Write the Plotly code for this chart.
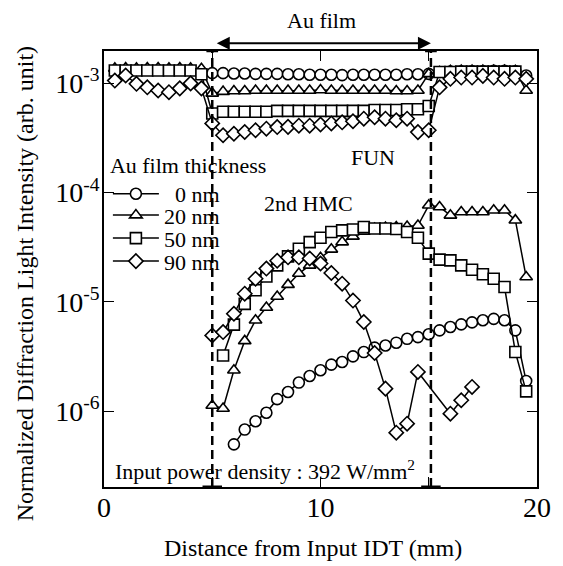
import plotly.graph_objects as go

# ---------------- data ----------------
def xr(a, b):
    return [a + 0.5 * i for i in range(int(round((b - a) / 0.5)) + 1)]

thickness_labels = ["\u00a0\u00a00 nm", "20 nm", "50 nm", "90 nm"]

# Fundamental (FUN) component
fun_x_0 = xr(5.0, 19.5)
fun_y_0 = [1.24e-3, 1.24e-3, 1.23e-3, 1.23e-3, 1.22e-3, 1.22e-3, 1.22e-3, 1.21e-3, 1.21e-3, 1.20e-3,
           1.20e-3, 1.20e-3, 1.19e-3, 1.20e-3, 1.20e-3, 1.20e-3, 1.20e-3, 1.20e-3, 1.21e-3, 1.21e-3,
           1.22e-3, 1.27e-3, 1.28e-3, 1.28e-3, 1.29e-3, 1.29e-3, 1.30e-3, 1.30e-3, 1.29e-3, 1.18e-3]

fun_x_20 = xr(0.5, 19.5)
fun_y_20 = [1.37e-3, 1.38e-3, 1.37e-3, 1.38e-3, 1.38e-3, 1.37e-3, 1.38e-3, 1.37e-3, 1.36e-3,
            0.81e-3,
            0.84e-3, 0.85e-3, 0.85e-3, 0.86e-3, 0.86e-3, 0.86e-3, 0.86e-3, 0.86e-3, 0.86e-3, 0.87e-3,
            0.86e-3, 0.86e-3, 0.86e-3, 0.86e-3, 0.86e-3, 0.86e-3, 0.85e-3, 0.85e-3, 0.86e-3,
            1.22e-3,
            1.27e-3, 1.30e-3, 1.31e-3, 1.31e-3, 1.31e-3, 1.31e-3, 1.31e-3, 1.30e-3,
            0.86e-3]

fun_x_50 = xr(0.5, 19.0)
fun_y_50 = [1.31e-3, 1.31e-3, 1.31e-3, 1.31e-3, 1.31e-3, 1.31e-3, 1.31e-3, 1.31e-3, 1.21e-3,
            0.53e-3,
            0.55e-3, 0.55e-3, 0.55e-3, 0.55e-3, 0.55e-3, 0.56e-3, 0.56e-3, 0.56e-3, 0.56e-3, 0.56e-3,
            0.56e-3, 0.56e-3, 0.56e-3, 0.56e-3, 0.57e-3, 0.57e-3, 0.57e-3, 0.58e-3, 0.58e-3,
            0.62e-3,
            1.27e-3, 1.27e-3, 1.28e-3, 1.28e-3, 1.28e-3, 1.28e-3, 1.28e-3, 1.28e-3]

fun_x_90 = xr(0.5, 19.5)
fun_y_90 = [1.06e-3, 1.18e-3, 0.99e-3, 0.92e-3, 0.86e-3, 0.83e-3, 0.90e-3, 1.00e-3, 0.90e-3,
            0.43e-3,
            0.335e-3, 0.346e-3, 0.359e-3, 0.372e-3, 0.385e-3, 0.398e-3, 0.40e-3, 0.41e-3, 0.41e-3, 0.42e-3,
            0.43e-3, 0.44e-3, 0.45e-3, 0.475e-3, 0.49e-3, 0.475e-3, 0.46e-3, 0.475e-3, 0.358e-3,
            0.372e-3,
            0.92e-3,
            1.10e-3, 1.13e-3, 1.13e-3, 1.17e-3, 1.13e-3, 1.10e-3, 1.13e-3, 1.10e-3]

# 2nd harmonic (2nd HMC) component
hmc_x_0 = xr(6.0, 19.5)
hmc_y_0 = [4.98e-7, 6.8e-7, 8.1e-7, 9.7e-7, 1.29e-6, 1.5e-6, 1.83e-6, 2.1e-6, 2.37e-6, 2.67e-6,
           2.82e-6, 3.18e-6, 3.48e-6, 3.82e-6, 4.0e-6, 4.24e-6, 4.6e-6, 4.77e-6, 5.06e-6, 5.5e-6,
           5.9e-6, 6.23e-6, 6.5e-6, 6.8e-6, 7.0e-6, 6.8e-6, 5.5e-6, 1.89e-6]

hmc_x_20 = xr(5.0, 19.5)
hmc_y_20 = [1.13e-6, 1.06e-6, 2.37e-6, 4.4e-6, 6.8e-6, 8.9e-6, 1.12e-5, 1.44e-5, 1.82e-5, 2.16e-5,
            2.54e-5, 3.03e-5, 3.53e-5, 3.98e-5, 4.42e-5, 4.7e-5, 4.8e-5, 4.85e-5, 4.9e-5, 5.0e-5,
            7.66e-5, 7.4e-5, 6.2e-5, 6.65e-5, 6.65e-5, 6.65e-5, 6.9e-5, 6.9e-5, 5.6e-5, 1.69e-5]

hmc_x_50 = xr(5.5, 19.5)
hmc_y_50 = [3.24e-6, 6.2e-6, 9.6e-6, 1.28e-5, 1.71e-5, 2.16e-5, 2.61e-5, 3.07e-5, 3.53e-5, 3.87e-5,
            4.36e-5, 4.52e-5, 4.6e-5, 4.85e-5, 4.7e-5, 4.7e-5, 4.65e-5, 4.36e-5, 3.87e-5, 2.77e-5,
            2.44e-5, 2.4e-5, 2.16e-5, 1.97e-5, 1.79e-5, 1.63e-5, 1.37e-5, 3.48e-6, 1.52e-6]

hmc_x_90 = xr(5.0, 14.5) + [16.0, 16.5, 17.0]
hmc_y_90 = [4.94e-6, 5.3e-6, 7.8e-6, 1.19e-5, 1.63e-5, 2.02e-5, 2.38e-5, 2.56e-5, 2.56e-5, 2.5e-5,
            2.25e-5, 1.84e-5, 1.47e-5, 1.03e-5, 6.55e-6, 3.41e-6, 1.61e-6, 6.37e-7, 7.7e-7, 2.29e-6,
            9.5e-7, 1.26e-6, 1.67e-6]

film_start, film_end = 5.0, 15.1

x_tickvals = [0, 10, 20]
x_minor_tickvals = [5, 15]
y_tickvals = [1e-6, 1e-5, 1e-4, 1e-3]
y_ticktext = ["10<sup>-6</sup>", "10<sup>-5</sup>", "10<sup>-4</sup>", "10<sup>-3</sup>"]

# ---------------- figure ----------------
FONT = "Liberation Serif, Times New Roman, serif"
symbols = ["circle", "triangle-up", "square", "diamond"]
sizes = [11, 11, 11, 11]
legend_ids = ["legend", "legend2", "legend3", "legend4"]

fun_sets = [(fun_x_0, fun_y_0), (fun_x_20, fun_y_20), (fun_x_50, fun_y_50), (fun_x_90, fun_y_90)]
hmc_sets = [(hmc_x_0, hmc_y_0), (hmc_x_20, hmc_y_20), (hmc_x_50, hmc_y_50), (hmc_x_90, hmc_y_90)]

fig = go.Figure()
for i in range(4):
    for j, (xs, ys) in enumerate([fun_sets[i], hmc_sets[i]]):
        fig.add_trace(go.Scatter(
            x=xs, y=ys, mode="lines+markers",
            name=thickness_labels[i],
            legendgroup=f"g{i}",
            legend=legend_ids[i],
            showlegend=(j == 0),
            line=dict(color="black", width=1.5),
            marker=dict(symbol=symbols[i], size=sizes[i], color="white",
                        line=dict(color="black", width=1.6)),
        ))

H = 436.0
def py(p):
    return (486.7 - p) / H

legend_common = dict(bgcolor="rgba(0,0,0,0)", borderwidth=0, x=0.009, xanchor="left",
                     font=dict(family=FONT, size=22, color="black"), itemwidth=46,
                     tracegroupgap=0)
layout_legends = {
    "legend": dict(legend_common, y=py(144), yanchor="top",
                   title=dict(text="Au film thickness", font=dict(family=FONT, size=22, color="black"))),
    "legend2": dict(legend_common, y=py(215), yanchor="middle"),
    "legend3": dict(legend_common, y=py(238), yanchor="middle"),
    "legend4": dict(legend_common, y=py(261), yanchor="middle"),
}

fig.update_layout(
    width=563, height=566,
    margin=dict(l=104, r=23, t=51, b=79),
    paper_bgcolor="white", plot_bgcolor="white",
    font=dict(family=FONT, color="black", size=22),
    showlegend=True,
    **layout_legends,
)

fig.update_xaxes(
    range=[0, 20], tickvals=x_tickvals,
    ticks="inside", ticklen=10, tickwidth=1.2, tickcolor="black",
    minor=dict(tickvals=x_minor_tickvals, ticks="inside", ticklen=10, tickwidth=1.2, tickcolor="black"),
    showline=True, linecolor="black", linewidth=1.5, mirror="ticks",
    showgrid=False, zeroline=False, ticklabelstandoff=-5,
    tickfont=dict(family=FONT, size=28, color="black"),
)
fig.update_yaxes(
    type="log", range=[-6.693, -2.704],
    tickvals=y_tickvals, ticktext=y_ticktext,
    ticks="inside", ticklen=10, tickwidth=1.2, tickcolor="black",
    showline=True, linecolor="black", linewidth=1.5, mirror="ticks",
    showgrid=False, zeroline=False, ticklabelstandoff=-3,
    tickfont=dict(family=FONT, size=28, color="black"),
)

# dashed film boundaries with their end caps
for xv in (film_start, film_end):
    fig.add_shape(type="line", xref="x", yref="paper", x0=xv, x1=xv, y0=0, y1=1,
                  line=dict(color="black", width=2.5, dash="9px,5px"))
    fig.add_shape(type="line", xref="x", yref="paper", x0=xv - 0.45, x1=xv + 0.45, y0=0, y1=0,
                  line=dict(color="black", width=3))
    fig.add_shape(type="line", xref="x", yref="paper", x0=xv - 0.27, x1=xv + 0.27, y0=1, y1=1,
                  line=dict(color="black", width=2.5))

# film arrow
fig.add_annotation(x=film_end, y=1.0177, xref="x", yref="paper",
                   ax=film_start, ay=0, axref="x", ayref="pixel",
                   text=" ", showarrow=True, arrowhead=2, arrowside="end+start",
                   arrowsize=1.3, arrowwidth=2, arrowcolor="black")
fig.add_annotation(x=(film_start + film_end) / 2, y=py(20), xref="x", yref="paper",
                   text="Au film", showarrow=False, font=dict(family=FONT, size=22),
                   xanchor="center", yanchor="middle")

fig.add_annotation(x=12.43, y=py(157), xref="x", yref="paper", text="FUN", showarrow=False,
                   font=dict(family=FONT, size=22), xanchor="center", yanchor="middle")
fig.add_annotation(x=9.45, y=py(203), xref="x", yref="paper", text="2nd HMC", showarrow=False,
                   font=dict(family=FONT, size=22), xanchor="center", yanchor="middle")
fig.add_annotation(x=0.4, y=py(470), xref="x", yref="paper",
                   text="Input power density : 392 W/mm<sup>2</sup>", showarrow=False,
                   font=dict(family=FONT, size=22), xanchor="left", yanchor="middle")

# axis titles
fig.add_annotation(x=0.483, y=-0.1406, xref="paper", yref="paper",
                   text="Distance from Input IDT (mm)", showarrow=False,
                   font=dict(family=FONT, size=24), xanchor="center", yanchor="middle")
fig.add_annotation(x=(25 - 104.5) / 435.5, y=0.467, xref="paper", yref="paper",
                   text="Normalized Diffraction Light Intensity (arb. unit)", showarrow=False,
                   textangle=-90, font=dict(family=FONT, size=24), xanchor="center", yanchor="middle")

fig.write_html("out.html", config={"displayModeBar": False},
               post_script="document.body.style.margin='0px';")
